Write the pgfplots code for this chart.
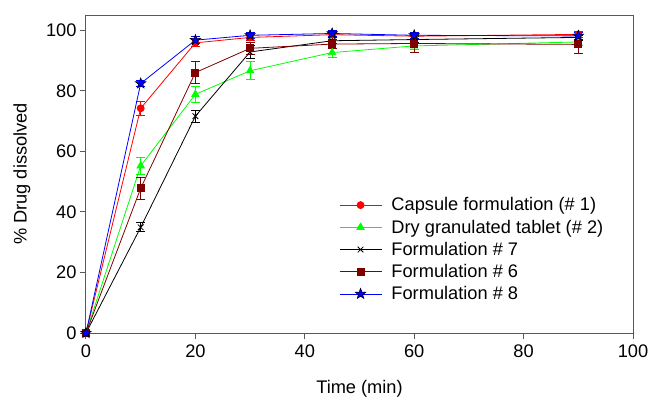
\documentclass[border=0pt]{standalone}
\usepackage{fontspec}
\setmainfont{Liberation Sans}
\usepackage{pgfplots}
\pgfplotsset{compat=1.18}

\definecolor{maroonc}{RGB}{128,0,0}

% filled five-pointed star
\pgfdeclareplotmark{fstar}{%
  \pgfpathmoveto{\pgfpointpolar{90}{\pgfplotmarksize}}%
  \pgfpathlineto{\pgfpointpolar{126}{0.42\pgfplotmarksize}}%
  \pgfpathlineto{\pgfpointpolar{162}{\pgfplotmarksize}}%
  \pgfpathlineto{\pgfpointpolar{198}{0.42\pgfplotmarksize}}%
  \pgfpathlineto{\pgfpointpolar{234}{\pgfplotmarksize}}%
  \pgfpathlineto{\pgfpointpolar{270}{0.42\pgfplotmarksize}}%
  \pgfpathlineto{\pgfpointpolar{306}{\pgfplotmarksize}}%
  \pgfpathlineto{\pgfpointpolar{342}{0.42\pgfplotmarksize}}%
  \pgfpathlineto{\pgfpointpolar{18}{\pgfplotmarksize}}%
  \pgfpathlineto{\pgfpointpolar{54}{0.42\pgfplotmarksize}}%
  \pgfpathclose
  \pgfusepathqfillstroke
}

\begin{document}
\begin{tikzpicture}[font=\fontsize{18.3}{21}\selectfont]
\begin{axis}[
    scale only axis,
    width=547bp, height=318bp,
    xmin=0, xmax=100, ymin=0, ymax=105,
    xtick={0,20,...,100}, ytick={0,20,...,100},
    tick pos=left, tick align=outside,
    major tick length=6bp,
    axis line style={black!65, line width=1bp},
    every tick/.style={black!65, line width=1bp},
    /pgf/number format/assume math mode=true,
    ticklabel style={font=\fontsize{18.3}{21}\selectfont},
    label style={font=\fontsize{18.3}{21}\selectfont},
    xlabel={Time (min)}, ylabel={\% Drug dissolved},
    xlabel style={at={(rel axis cs:0.5,-0.175)}, anchor=center},
    ylabel style={at={(rel axis cs:-0.117,0.5)}, anchor=center},
    xticklabel style={yshift=-2bp},
    clip=false,
    every axis plot/.append style={line width=0.8bp},
    error bars/y dir=both, error bars/y explicit,
    error bars/error mark options={rotate=90, mark size=4.5bp, line width=0.8bp},
    legend image code/.code={\draw[mark repeat=2,mark phase=2,#1] plot coordinates {(0bp,0bp)(21bp,0bp)(42bp,0bp)};},
    legend style={draw=none, fill=none, at={(rel axis cs:0.457,0.437)}, anchor=north west,
        font=\fontsize{18.3}{21}\selectfont, row sep=4.5bp,
        nodes={inner sep=1.5bp}, cells={anchor=west},
        /tikz/every odd column/.append style={column sep=8bp}},
    legend cell align=left,
]
\addplot[red, mark=*, mark size=3.5bp, error bars/error bar style={red}]
  coordinates {(0,0) +- (0,0) (10,74.2) +- (0,2.2) (20,95.8) +- (0,1.2) (30,97.6) +- (0,1.0)
               (45,98.5) +- (0,1.0) (60,98.0) +- (0,1.0) (90,98.6) +- (0,1.0)};
\addlegendentry{Capsule formulation (\# 1)}
\addplot[green, mark=triangle*, mark size=4.2bp, error bars/error bar style={green}]
  coordinates {(0,0) +- (0,0) (10,55.2) +- (0,2.9) (20,78.8) +- (0,2.6) (30,86.6) +- (0,3.0)
               (45,92.6) +- (0,1.5) (60,94.8) +- (0,1.2) (90,96.1) +- (0,1.0)};
\addlegendentry{Dry granulated tablet (\# 2)}
\addplot[black, mark=x, mark size=4bp, error bars/error bar style={black}]
  coordinates {(0,0) +- (0,0) (10,34.9) +- (0,1.5) (20,71.6) +- (0,1.9) (30,92.8) +- (0,2.2)
               (45,96.5) +- (0,1.0) (60,96.9) +- (0,1.0) (90,97.6) +- (0,1.0)};
\addlegendentry{Formulation \# 7}
\addplot[maroonc, mark=square*, mark size=3.5bp, error bars/error bar style={maroonc}]
  coordinates {(0,0) +- (0,0) (10,47.8) +- (0,3.6) (20,86.0) +- (0,3.7) (30,94.0) +- (0,2.0)
               (45,95.4) +- (0,1.5) (60,95.6) +- (0,2.8) (90,95.3) +- (0,3.1)};
\addlegendentry{Formulation \# 6}
\addplot[blue, mark=fstar, mark size=5.5bp,
    mark options={draw=black, fill=blue, line width=0.6bp},
    error bars/error bar style={blue}]
  coordinates {(0,0) +- (0,0) (10,82.4) +- (0,1.0) (20,96.7) +- (0,1.2) (30,98.3) +- (0,1.0)
               (45,98.9) +- (0,1.0) (60,98.3) +- (0,1.0) (90,98.1) +- (0,1.0)};
\addlegendentry{Formulation \# 8}
\coordinate (bl) at (rel axis cs:-0.1572,-0.2107);
\coordinate (tr) at (rel axis cs:1.0329,1.0472);
\end{axis}
\pgfresetboundingbox
\path[use as bounding box] (bl) rectangle (tr);
\end{tikzpicture}
\end{document}
